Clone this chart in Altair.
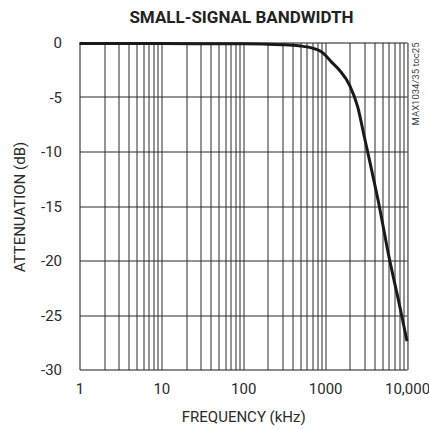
import altair as alt
import pandas as pd

# Data
freq_khz = [1, 10, 100, 200, 300, 400, 500, 600, 700, 800, 900, 1000,
            1200, 1500, 2000, 2500, 3000, 3600, 4500, 6000, 8000, 10000]
atten_db = [-0.1, -0.1, -0.12, -0.15, -0.2, -0.25, -0.32, -0.4, -0.52, -0.65, -0.85, -1.15,
            -1.8, -2.55, -3.95, -5.9, -8.6, -11.3, -14.7, -19.6, -23.9, -27.4]

x_grid_values = [m * 10 ** k for k in range(4) for m in range(1, 10)] + [10000]
x_label_values = [1, 10, 100, 1000, 10000]
x_label_text = ["1", "10", "100", "1000", "10,000"]
y_values = [-30, -25, -20, -15, -10, -5, 0]

note_text = "MAX1034/35 toc25"
title_text = "SMALL-SIGNAL BANDWIDTH"

df = pd.DataFrame({"f": freq_khz, "a": atten_db})

label_expr = " : ".join(
    f"datum.value == {v} ? '{t}'" for v, t in zip(x_label_values, x_label_text)
) + " : ''"

FONT = "Roboto"

x_scale = alt.Scale(type="log", domain=[1, 10000], nice=False)
y_scale = alt.Scale(domain=[-30, 0], nice=False)

line = alt.Chart(df).mark_line(
    color="#1a1a1a", strokeWidth=3, interpolate="monotone"
).encode(
    x=alt.X("f:Q", scale=x_scale, axis=alt.Axis(
        values=x_grid_values, labelExpr=label_expr, title="FREQUENCY (kHz)",
        grid=True, gridColor="#2a2a2a", gridWidth=1, gridOpacity=1,
        ticks=False, domain=False, labelFlush=False, labelOverlap=False,
        labelFont=FONT, labelFontSize=15, labelColor="#2a2a2a", labelPadding=12,
        labelBaseline="top",
        titleFont=FONT, titleFontSize=15, titleFontWeight="normal", titleColor="#2a2a2a",
        titleBaseline="alphabetic", titleY=51.5,
    )),
    y=alt.Y("a:Q", scale=y_scale, axis=alt.Axis(
        values=y_values, labelExpr="'' + datum.value", title="ATTENUATION (dB)",
        grid=True, gridColor="#2a2a2a", gridWidth=1, gridOpacity=1,
        ticks=False, domain=False, labelFlush=False, labelOverlap=False,
        labelFont=FONT, labelFontSize=15, labelColor="#2a2a2a", labelPadding=18,
        titleFont=FONT, titleFontSize=15, titleFontWeight="normal", titleColor="#2a2a2a",
        titleAngle=270, titleBaseline="alphabetic", titleX=-55.5, titleY=164,
        titleAlign="center",
    )),
)

note = alt.Chart(pd.DataFrame({"f": [10000], "a": [0], "t": [note_text]})).mark_text(
    angle=270, align="right", baseline="top", dy=4, font=FONT, fontSize=9.5, color="#444"
).encode(
    x=alt.X("f:Q", scale=x_scale),
    y=alt.Y("a:Q", scale=y_scale),
    text="t:N",
)

title = alt.Chart(pd.DataFrame({"t": [title_text]})).mark_text(
    align="center", baseline="alphabetic", font=FONT, fontSize=17, fontWeight="bold",
    color="#222"
).encode(
    x=alt.value(162), y=alt.value(-20), text="t:N"
)

chart = alt.layer(line, note, title).properties(
    width=327.5,
    height=327,
    autosize=alt.AutoSizeParams(type="none"),
    padding={"left": 79.5, "top": 42.5, "right": 22, "bottom": 59.5},
).configure_view(
    stroke="#111", strokeWidth=3, fill="white"
).configure(background="white")

chart.save("out.html", embed_options={"renderer": "svg", "actions": False})
